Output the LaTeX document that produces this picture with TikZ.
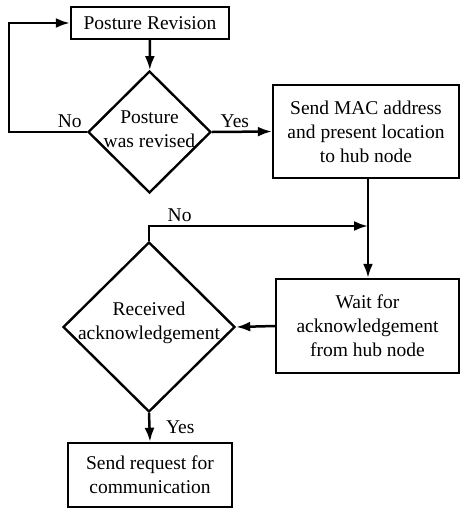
\documentclass[tikz,border=0pt]{standalone}
\usepackage{fontspec}
\setmainfont{Liberation Serif}
\usetikzlibrary{arrows.meta}
\usetikzlibrary{shapes.geometric}
\tikzset{%
  >={Latex[width=10pt,length=14pt]},
  % Specifications for style of nodes:
        base/.style = {draw=black, line width=2.4pt, inner sep=0pt,
                       text centered, align=center},
     process/.style = {base, rectangle},
    decision/.style = {base, diamond, aspect=1},
        flow/.style = {->, line width=2.5pt},
}

\begin{document}
\begin{tikzpicture}[x=1pt, y=1pt,
    every node/.style={font=\fontsize{19.5}{24}\selectfont}]
  \useasboundingbox (0,0) rectangle (460,-509);
  % Specification of nodes (position, etc.)
  \node (revision) [process, minimum width=158pt, minimum height=32pt]
        at (150,-23) {Posture Revision};
  \node (revised)  [decision, minimum width=123pt, minimum height=122pt,
        label={[align=center, yshift=3pt]center:Posture\\was revised}]
        at (149.5,-132) {};
  \node (sendMac)  [process, minimum width=186pt, minimum height=93pt]
        at (366,-131.5) {Send MAC address\\and present location\\to hub node};
  \node (waitAck)  [process, minimum width=183pt, minimum height=94pt]
        at (367.5,-326) {Wait for\\acknowledgement\\from hub node};
  \node (received) [decision, minimum width=172pt, minimum height=170pt,
        label={[align=center, yshift=4pt]center:Received\\acknowledgement}]
        at (149,-327) {};
  \node (request)  [process, minimum width=164pt, minimum height=64pt]
        at (150,-475) {Send request for\\communication};

  \coordinate (back) at (9,-132);
  \coordinate (join) at (368,-226);

  % Specification of lines between nodes specified above
  \draw[flow] (revised.west) -- node[above, pos=0.22] {No}
        (back) |- (revision.west);
  \draw[flow] (revision) -- (revised);
  \draw[flow] (revised.east) -- node[above, pos=0.38] {Yes} (sendMac.west);
  \draw[line width=2.5pt] (sendMac.south -| join) -- (join);
  \draw[flow] (join) -- (join |- waitAck.north);
  \draw[flow] (received.north) |- node[above, pos=0.57] {No} (join);
  \draw[flow] (waitAck.west) -- (received.east);
  \draw[flow] (received.south) -- node[right, xshift=12pt] {Yes} (request.north);
\end{tikzpicture}
\end{document}
